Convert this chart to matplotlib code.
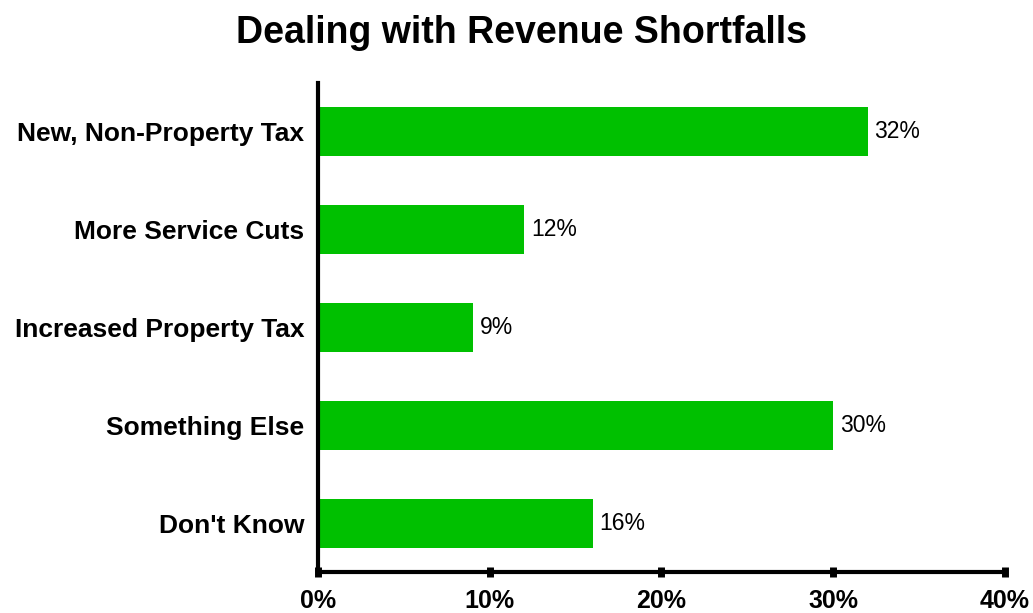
import matplotlib.pyplot as plt
from matplotlib.ticker import FuncFormatter

# survey answers, top to bottom
categories = ['New, Non-Property Tax', 'More Service Cuts', 'Increased Property Tax',
              'Something Else', "Don't Know"]
percents = [32, 12, 9, 30, 16]
xticks = [0, 10, 20, 30, 40]

plt.rcParams['font.family'] = ['Liberation Sans', 'DejaVu Sans']

fig = plt.figure(figsize=(10.33, 6.13), dpi=100)
ax = fig.add_axes([0.3078, 0.0669, 0.6651, 0.7977])

ypos = list(range(len(categories)))
bars = ax.barh(ypos, percents, height=0.5, color='#00c000')
for b, v in zip(bars, percents):
    ax.text(b.get_width() + 0.4, b.get_y() + b.get_height() / 2, '%d%%' % v,
            va='center', ha='left', fontsize=16.5)

ax.set_xlim(0, 40)
ax.set_ylim(len(categories) - 0.5, -0.5)
ax.set_xticks(xticks)
ax.xaxis.set_major_formatter(FuncFormatter(lambda v, p: '%d%%' % v))
ax.set_yticks(ypos)
ax.set_yticklabels(categories)

for s in ['top', 'right']:
    ax.spines[s].set_visible(False)
for s in ['left', 'bottom']:
    ax.spines[s].set_linewidth(3)
ax.tick_params(axis='x', direction='inout', length=7, width=5, pad=9,
               labelsize=18)
ax.tick_params(axis='y', length=0, pad=10, labelsize=19)
for lbl in ax.get_xticklabels() + ax.get_yticklabels():
    lbl.set_fontweight('bold')

fig.suptitle('Dealing with Revenue Shortfalls', fontsize=27, fontweight='bold',
             x=0.505, y=0.975)

fig.savefig('out.png')
